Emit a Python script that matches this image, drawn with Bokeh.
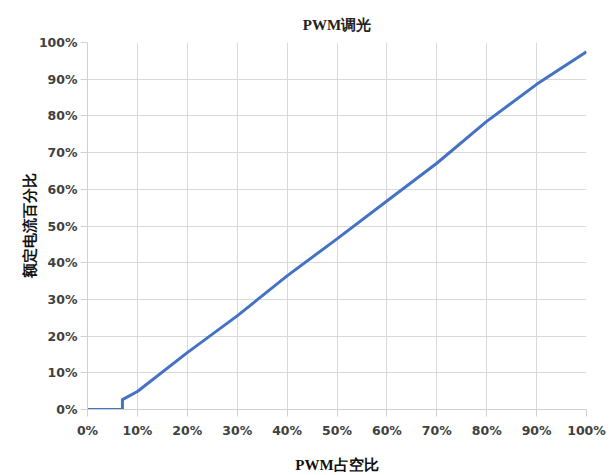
from bokeh.plotting import figure
from bokeh.models import Range1d, NumeralTickFormatter, FixedTicker
from bokeh.embed import file_html
from bokeh.resources import INLINE

duty = [0.0, 0.07, 0.07, 0.10, 0.20, 0.30, 0.40, 0.50, 0.60, 0.70, 0.80, 0.90, 1.00]
current = [0.0, 0.0, 0.027, 0.049, 0.155, 0.255, 0.364, 0.465, 0.568, 0.671, 0.785, 0.886, 0.975]
ticks = [0.0, 0.1, 0.2, 0.3, 0.4, 0.5, 0.6, 0.7, 0.8, 0.9, 1.0]

p = figure(width=614, height=475, output_backend="svg", toolbar_location=None,
           x_range=Range1d(0, 1), y_range=Range1d(0, 1),
           title="PWM调光")
p.min_border_left = 87
p.min_border_right = 28
p.min_border_top = 42
p.min_border_bottom = 66

p.title.align = "center"
p.title.vertical_align = "top"
p.title.text_font = "Liberation Serif"
p.title.text_font_size = "15px"
p.title.text_font_style = "bold"
p.title.text_color = "#222222"
p.title.standoff = 16

p.line(duty, current, line_color="#4472C4", line_width=3)

for ax in (p.xaxis, p.yaxis):
    ax.ticker = FixedTicker(ticks=ticks)
    ax.formatter = NumeralTickFormatter(format="0%")
    ax.major_label_text_font = "DejaVu Sans"
    ax.major_label_text_font_size = "12.5px"
    ax.major_label_text_font_style = "bold"
    ax.major_label_text_color = "#404040"
    ax.axis_line_color = "#d0d0d0"
    ax.major_tick_line_color = "#d0d0d0"
    ax.major_tick_out = 7
    ax.major_tick_in = 0
    ax.minor_tick_line_color = None
    ax.axis_label_text_font = "Liberation Serif"
    ax.axis_label_text_font_size = "15px"
    ax.axis_label_text_font_style = "bold"
    ax.axis_label_text_color = "#111111"

p.xaxis.axis_label = "PWM占空比"
p.yaxis.axis_label = "额定电流百分比"
p.xaxis.axis_label_standoff = 16
p.yaxis.axis_label_standoff = -2
p.xaxis.major_label_standoff = 6
p.yaxis.major_label_standoff = 3

p.grid.grid_line_color = "#d9d9d9"
p.grid.grid_line_width = 1
p.outline_line_color = None

open("out.html", "w").write(file_html(p, INLINE))
